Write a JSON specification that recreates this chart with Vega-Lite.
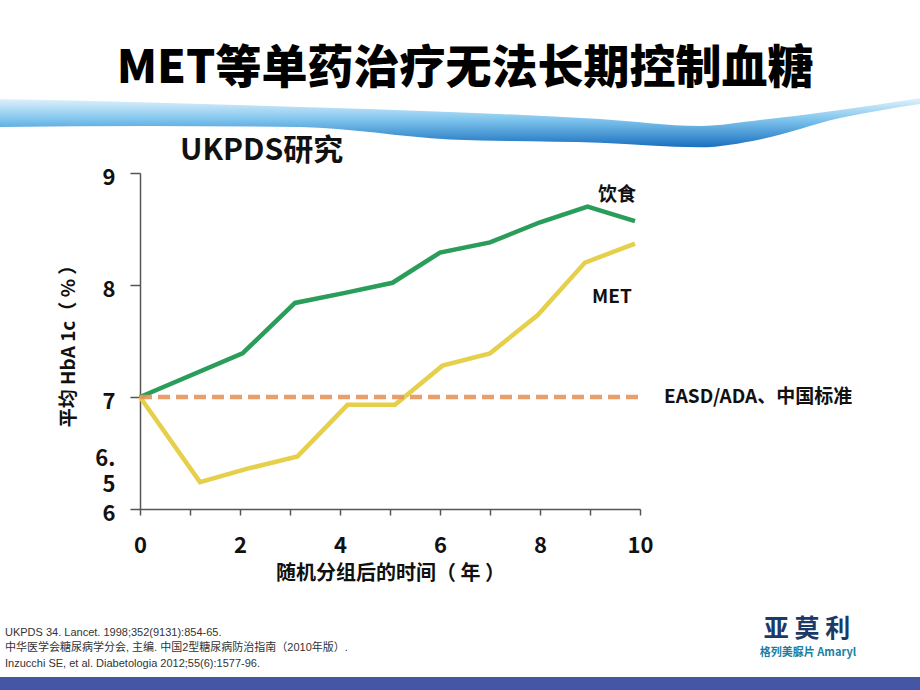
{
  "$schema": "https://vega.github.io/schema/vega-lite/v6.json",
  "width": 500,
  "height": 336,
  "autosize": {"type": "none"},
  "padding": {"left": 140, "top": 173, "right": 280, "bottom": 181},
  "background": "white",
  "config": {"font": "Noto Sans CJK SC", "view": {"stroke": null}},
  "title": {
    "text": "MET等单药治疗无法长期控制血糖",
    "fontSize": 46,
    "fontWeight": 900,
    "font": "Noto Sans CJK SC",
    "color": "#000000",
    "anchor": "middle",
    "dx": 75,
    "dy": 44,
    "baseline": "bottom",
    "offset": 3
  },
  "datasets": {
    "series": [
      {"group": "饮食", "year": 0, "value": 7.0},
      {"group": "饮食", "year": 2.05, "value": 7.39},
      {"group": "饮食", "year": 3.1, "value": 7.84},
      {"group": "饮食", "year": 4.1, "value": 7.93},
      {"group": "饮食", "year": 5.05, "value": 8.02},
      {"group": "饮食", "year": 6.0, "value": 8.29},
      {"group": "饮食", "year": 7.0, "value": 8.38},
      {"group": "饮食", "year": 8.0, "value": 8.56},
      {"group": "饮食", "year": 8.95, "value": 8.7},
      {"group": "饮食", "year": 9.9, "value": 8.57},
      {"group": "MET", "year": 0, "value": 7.0},
      {"group": "MET", "year": 1.2, "value": 6.24},
      {"group": "MET", "year": 2.15, "value": 6.36},
      {"group": "MET", "year": 3.15, "value": 6.47},
      {"group": "MET", "year": 4.15, "value": 6.93},
      {"group": "MET", "year": 5.1, "value": 6.93},
      {"group": "MET", "year": 6.05, "value": 7.28},
      {"group": "MET", "year": 7.0, "value": 7.39},
      {"group": "MET", "year": 7.95, "value": 7.73},
      {"group": "MET", "year": 8.9, "value": 8.2},
      {"group": "MET", "year": 9.9, "value": 8.37}
    ],
    "target": [
      {"year": 0, "year2": 10, "value": 7.0}
    ],
    "swoosh": [
      {"year": -2.8, "value": 9.66, "value2": 9.41},
      {"year": 0.2, "value": 9.63, "value2": 9.42},
      {"year": 3.2, "value": 9.589, "value2": 9.41},
      {"year": 6.2, "value": 9.545, "value2": 9.3},
      {"year": 9.2, "value": 9.482, "value2": 9.27},
      {"year": 11.2, "value": 9.42, "value2": 9.23},
      {"year": 12.4, "value": 9.473, "value2": 9.3},
      {"year": 14.0, "value": 9.5625, "value2": 9.49},
      {"year": 15.6, "value": 9.67, "value2": 9.616}
    ],
    "labels": [
      {"year": 9.16, "value": 8.8, "text": "饮食"},
      {"year": 9.04, "value": 7.89, "text": "MET"},
      {"year": 10.48, "value": 7.0, "text": "EASD/ADA、中国标准"}
    ],
    "subtitle": [
      {"year": 0.8, "value": 9.2, "text": "UKPDS研究"}
    ],
    "notes": [
      {"year": -2.7, "value": 4.893, "text": "UKPDS 34. Lancet. 1998;352(9131):854-65."},
      {"year": -2.7, "value": 4.759, "text": "中华医学会糖尿病学分会, 主编. 中国2型糖尿病防治指南（2010年版）."},
      {"year": -2.7, "value": 4.616, "text": "Inzucchi SE, et al. Diabetologia 2012;55(6):1577-96."}
    ],
    "brand": [
      {"year": 13.34, "value": 4.93, "text": "亚 莫 利"}
    ],
    "brand2": [
      {"year": 13.36, "value": 4.71, "text": "格列美脲片 Amaryl"}
    ],
    "band": [
      {"year": -2.8, "year2": 15.6, "value": 4.5, "value2": 4.384}
    ]
  },
  "layer": [
    {
      "data": {"name": "swoosh"},
      "mark": {
        "type": "area",
        "interpolate": "monotone",
        "fill": {
          "gradient": "linear",
          "x1": 0, "y1": 0, "x2": 0, "y2": 1,
          "stops": [
            {"offset": 0, "color": "#e3f3fc"},
            {"offset": 0.45, "color": "#7cc3ec"},
            {"offset": 1, "color": "#1a6fbf"}
          ]
        }
      },
      "encoding": {
        "x": {"field": "year", "type": "quantitative"},
        "y": {"field": "value", "type": "quantitative"},
        "y2": {"field": "value2"}
      }
    },
    {
      "data": {"name": "band"},
      "mark": {"type": "rect", "color": "#4557a4"},
      "encoding": {
        "x": {"field": "year", "type": "quantitative"},
        "x2": {"field": "year2"},
        "y": {"field": "value", "type": "quantitative"},
        "y2": {"field": "value2"}
      }
    },
    {
      "data": {"name": "series"},
      "mark": {"type": "line", "strokeWidth": 4.5, "strokeJoin": "miter"},
      "encoding": {
        "x": {
          "field": "year",
          "type": "quantitative",
          "scale": {"domain": [0, 10], "nice": false, "zero": false},
          "axis": {
            "values": [0, 1, 2, 3, 4, 5, 6, 7, 8, 9, 10],
            "labelExpr": "datum.value % 2 == 0 ? datum.label : ''",
            "grid": false,
            "domainColor": "#555555",
            "domainWidth": 1.5,
            "tickColor": "#555555",
            "tickWidth": 1.5,
            "tickSize": 6,
            "labelFontSize": 22,
            "labelFontWeight": "bold",
            "labelColor": "#111111",
            "labelPadding": 20,
            "labelFlush": false,
            "labelOverlap": false,
            "labelBound": false,
            "title": "随机分组后的时间（ 年 ）",
            "titleFontSize": 20,
            "titleFontWeight": "bold",
            "titleColor": "#111111",
            "titlePadding": 7
          }
        },
        "y": {
          "field": "value",
          "type": "quantitative",
          "scale": {"domain": [6, 9], "nice": false, "zero": false},
          "axis": {
            "values": [6, 6.5, 7, 8, 9],
            "labelExpr": "datum.value == 6.5 ? ['6.', '5'] : format(datum.value, 'd')",
            "grid": false,
            "domainColor": "#555555",
            "domainWidth": 1.5,
            "tickColor": {"condition": {"test": "datum.value == 6.5", "value": "transparent"}, "value": "#555555"},
            "tickWidth": 1.5,
            "tickSize": 10,
            "labelFontSize": 22,
            "labelFontWeight": "bold",
            "labelColor": "#111111",
            "labelPadding": 15,
            "labelLineHeight": 26,
            "labelOffset": {"condition": {"test": "datum.value == 6.5", "value": 5}, "value": 4},
            "labelOverlap": false,
            "labelBound": false,
            "title": "平均 HbA 1c（ % ）",
            "titleFontSize": 19,
            "titleFontWeight": "bold",
            "titleColor": "#111111",
            "titlePadding": 16
          }
        },
        "color": {
          "field": "group",
          "type": "nominal",
          "scale": {"domain": ["饮食", "MET"], "range": ["#2a9d5a", "#e6cf4a"]},
          "legend": null
        }
      }
    },
    {
      "data": {"name": "target"},
      "mark": {"type": "rule", "color": "#e8935a", "strokeWidth": 4.5, "strokeDash": [12, 6], "opacity": 0.9},
      "encoding": {
        "x": {"field": "year", "type": "quantitative"},
        "x2": {"field": "year2"},
        "y": {"field": "value", "type": "quantitative"}
      }
    },
    {
      "data": {"name": "labels"},
      "mark": {"type": "text", "align": "left", "baseline": "middle", "fontSize": 19, "fontWeight": "bold", "color": "#111111"},
      "encoding": {
        "x": {"field": "year", "type": "quantitative"},
        "y": {"field": "value", "type": "quantitative"},
        "text": {"field": "text"}
      }
    },
    {
      "data": {"name": "subtitle"},
      "mark": {"type": "text", "align": "left", "baseline": "middle", "fontSize": 30, "fontWeight": "bold", "color": "#111111"},
      "encoding": {
        "x": {"field": "year", "type": "quantitative"},
        "y": {"field": "value", "type": "quantitative"},
        "text": {"field": "text"}
      }
    },
    {
      "data": {"name": "notes"},
      "mark": {"type": "text", "align": "left", "baseline": "middle", "fontSize": 11, "font": "Liberation Sans Narrow, Liberation Sans, Noto Sans CJK SC", "color": "#333333"},
      "encoding": {
        "x": {"field": "year", "type": "quantitative"},
        "y": {"field": "value", "type": "quantitative"},
        "text": {"field": "text"}
      }
    },
    {
      "data": {"name": "brand"},
      "mark": {"type": "text", "align": "center", "baseline": "middle", "fontSize": 25, "fontWeight": "bold", "color": "#1c3a66"},
      "encoding": {
        "x": {"field": "year", "type": "quantitative"},
        "y": {"field": "value", "type": "quantitative"},
        "text": {"field": "text"}
      }
    },
    {
      "data": {"name": "brand2"},
      "mark": {"type": "text", "align": "center", "baseline": "middle", "fontSize": 11, "fontWeight": "bold", "color": "#1b7fa3"},
      "encoding": {
        "x": {"field": "year", "type": "quantitative"},
        "y": {"field": "value", "type": "quantitative"},
        "text": {"field": "text"}
      }
    }
  ]
}
